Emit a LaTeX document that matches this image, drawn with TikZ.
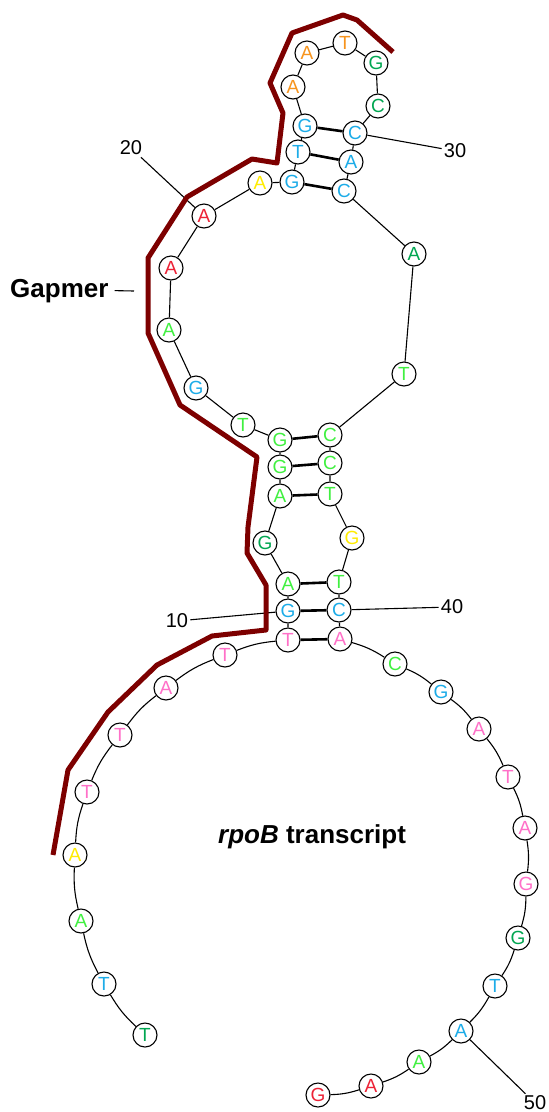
\documentclass[tikz,border=0pt]{standalone}
\usepackage{fontspec}
\setmainfont{Liberation Sans}
\usepackage{xcolor}
\usetikzlibrary{positioning}
\definecolor{ntred}{RGB}{237,34,54}
\definecolor{ntpink}{RGB}{255,112,200}
\definecolor{ntyellow}{RGB}{255,236,0}
\definecolor{ntorange}{RGB}{247,148,29}
\definecolor{ntgreen}{RGB}{64,240,64}
\definecolor{ntdkgreen}{RGB}{0,166,81}
\definecolor{ntblue}{RGB}{28,172,232}
\definecolor{gapmerred}{RGB}{125,0,0}
\tikzset{
    x=1pt, y=-1pt, % pixel grid, origin top left
    nt/.style={circle, draw, fill=white, line width=1.1pt, minimum size=24pt,
        inner sep=0pt, font=\fontsize{19}{19}\selectfont, text=#1}, % one nucleotide
    backbone/.style={line width=1.1pt},
    loopbend/.style={bend left=8},
    pair/.style={line width=2.6pt}, % base pairs
    numlabel/.style={font=\fontsize{20}{20}\selectfont, inner sep=2pt},
    bigtext/.style={font=\fontsize{26}{26}\selectfont\bfseries, inner sep=0pt},
    gapmer/.style={line width=5pt, draw=gapmerred, line join=round},
}

\begin{document}
\begin{tikzpicture}
    \useasboundingbox (0,0) rectangle (549,1112);

    % 5' tail and left side of the big loop
    \node[nt=ntdkgreen] (n1) at (145,1035) {T};
    \node[nt=ntblue] (n2) at (104,984) {T};
    \node[nt=ntgreen] (n3) at (81,921) {A};
    \node[nt=ntyellow] (n4) at (75,855) {A};
    \node[nt=ntpink] (n5) at (87,792) {T};
    \node[nt=ntpink] (n6) at (120,735) {T};
    \node[nt=ntpink] (n7) at (166,688) {A};
    \node[nt=ntpink] (n8) at (225,655) {T};
    \node[nt=ntpink] (n9) at (288,640) {T};
    \node[nt=ntblue] (n10) at (288,611) {G};
    \node[nt=ntgreen] (n11) at (288,584) {A};
    \node[nt=ntdkgreen] (n12) at (265,543) {G};
    \node[nt=ntgreen] (n13) at (280,496) {A};
    \node[nt=ntgreen] (n14) at (280,467) {G};
    \node[nt=ntgreen] (n15) at (280,440) {G};
    % upper loop
    \node[nt=ntgreen] (n16) at (243,425) {T};
    \node[nt=ntblue] (n17) at (196,388) {G};
    \node[nt=ntgreen] (n18) at (169,330) {A};
    \node[nt=ntred] (n19) at (171,268) {A};
    \node[nt=ntred] (n20) at (204,216) {A};
    \node[nt=ntyellow] (n21) at (260,183) {A};
    \node[nt=ntblue] (n22) at (292,182) {G};
    \node[nt=ntblue] (n23) at (298,152) {T};
    \node[nt=ntblue] (n24) at (305,126) {G};
    % hairpin
    \node[nt=ntorange] (n25) at (293,87) {A};
    \node[nt=ntorange] (n26) at (307,53) {A};
    \node[nt=ntorange] (n27) at (345,43) {T};
    \node[nt=ntdkgreen] (n28) at (376,63) {G};
    \node[nt=ntdkgreen] (n29) at (378,106) {C};
    \node[nt=ntblue] (n30) at (355,133) {C};
    \node[nt=ntblue] (n31) at (351,162) {A};
    \node[nt=ntblue] (n32) at (344,191) {C};
    \node[nt=ntdkgreen] (n33) at (414,254) {A};
    \node[nt=ntgreen] (n34) at (404,374) {T};
    \node[nt=ntgreen] (n35) at (330,435) {C};
    \node[nt=ntgreen] (n36) at (330,463) {C};
    \node[nt=ntgreen] (n37) at (330,494) {T};
    \node[nt=ntyellow] (n38) at (352,538) {G};
    \node[nt=ntgreen] (n39) at (339,582) {T};
    \node[nt=ntblue] (n40) at (339,610) {C};
    % right side of the big loop and 3' tail
    \node[nt=ntpink] (n41) at (340,639) {A};
    \node[nt=ntgreen] (n42) at (395,664) {C};
    \node[nt=ntblue] (n43) at (441,692) {G};
    \node[nt=ntpink] (n44) at (479,729) {A};
    \node[nt=ntpink] (n45) at (508,777) {T};
    \node[nt=ntpink] (n46) at (525,828) {A};
    \node[nt=ntpink] (n47) at (526,884) {G};
    \node[nt=ntdkgreen] (n48) at (518,938) {G};
    \node[nt=ntblue] (n49) at (495,986) {T};
    \node[nt=ntblue] (n50) at (461,1031) {A};
    \node[nt=ntgreen] (n51) at (419,1062) {A};
    \node[nt=ntred] (n52) at (371,1086) {A};
    \node[nt=ntred] (n53) at (318,1095) {G};

    % position labels
    \node[numlabel] (l10) at (177,621) {10};
    \node[numlabel] (l20) at (131,148) {20};
    \node[numlabel] (l30) at (455,151) {30};
    \node[numlabel] (l40) at (452,607) {40};
    \node[numlabel] (l50) at (535,1103) {50};

    \node[bigtext, anchor=base west] (gapmer) at (10,297) {Gapmer};
    \coordinate (gapdash) at (134,291);
    \node[bigtext, anchor=base west] (transcript) at (218,843) {\textit{rpoB} transcript};

    % backbone, big loop
    \path[backbone]
        (n1) edge[loopbend] (n2)
        (n2) edge[loopbend] (n3)
        (n3) edge[loopbend] (n4)
        (n4) edge[loopbend] (n5)
        (n5) edge[loopbend] (n6)
        (n6) edge[loopbend] (n7)
        (n7) edge[loopbend] (n8)
        (n8) edge[loopbend] (n9)
        (n41) edge[loopbend] (n42)
        (n42) edge[loopbend] (n43)
        (n43) edge[loopbend] (n44)
        (n44) edge[loopbend] (n45)
        (n45) edge[loopbend] (n46)
        (n46) edge[loopbend] (n47)
        (n47) edge[loopbend] (n48)
        (n48) edge[loopbend] (n49)
        (n49) edge[loopbend] (n50)
        (n50) edge[loopbend] (n51)
        (n51) edge[loopbend] (n52)
        (n52) edge[loopbend] (n53);
    % backbone, stems and upper loop
    \draw[backbone] (n9) -- (n10) -- (n11) -- (n12) -- (n13) -- (n14) -- (n15)
        -- (n16) -- (n17) -- (n18) -- (n19) -- (n20) -- (n21) -- (n22) -- (n23)
        -- (n24) -- (n25) -- (n26) -- (n27) -- (n28) -- (n29) -- (n30) -- (n31)
        -- (n32) -- (n33) -- (n34) -- (n35) -- (n36) -- (n37) -- (n38) -- (n39)
        -- (n40) -- (n41);

    % pairs
    \path[pair]
        (n9) edge (n41)
        (n10) edge (n40)
        (n11) edge (n39)
        (n13) edge (n37)
        (n14) edge (n36)
        (n15) edge (n35)
        (n22) edge (n32)
        (n23) edge (n31)
        (n24) edge (n30);

    % label ticks
    \path[backbone]
        (l10) edge (n10)
        (l20) edge (n20)
        (l30) edge (n30)
        (l40) edge (n40)
        (l50) edge (n50);
    \draw[backbone] ([xshift=6pt]gapmer.east) -- (gapdash);

    % gapmer strand
    \draw[gapmer] (393,52) -- (357,20) -- (343,15) -- (292,33) -- (270,83)
        -- (283,113) -- (277,163) -- (252,159) -- (187,197) -- (148,258)
        -- (148,333) -- (180,405) -- (257,457) -- (248,527) -- (247,553)
        -- (266,585) -- (266,630) -- (212,636) -- (157,665) -- (108,712)
        -- (68,770) -- (53,855);
\end{tikzpicture}
\end{document}
